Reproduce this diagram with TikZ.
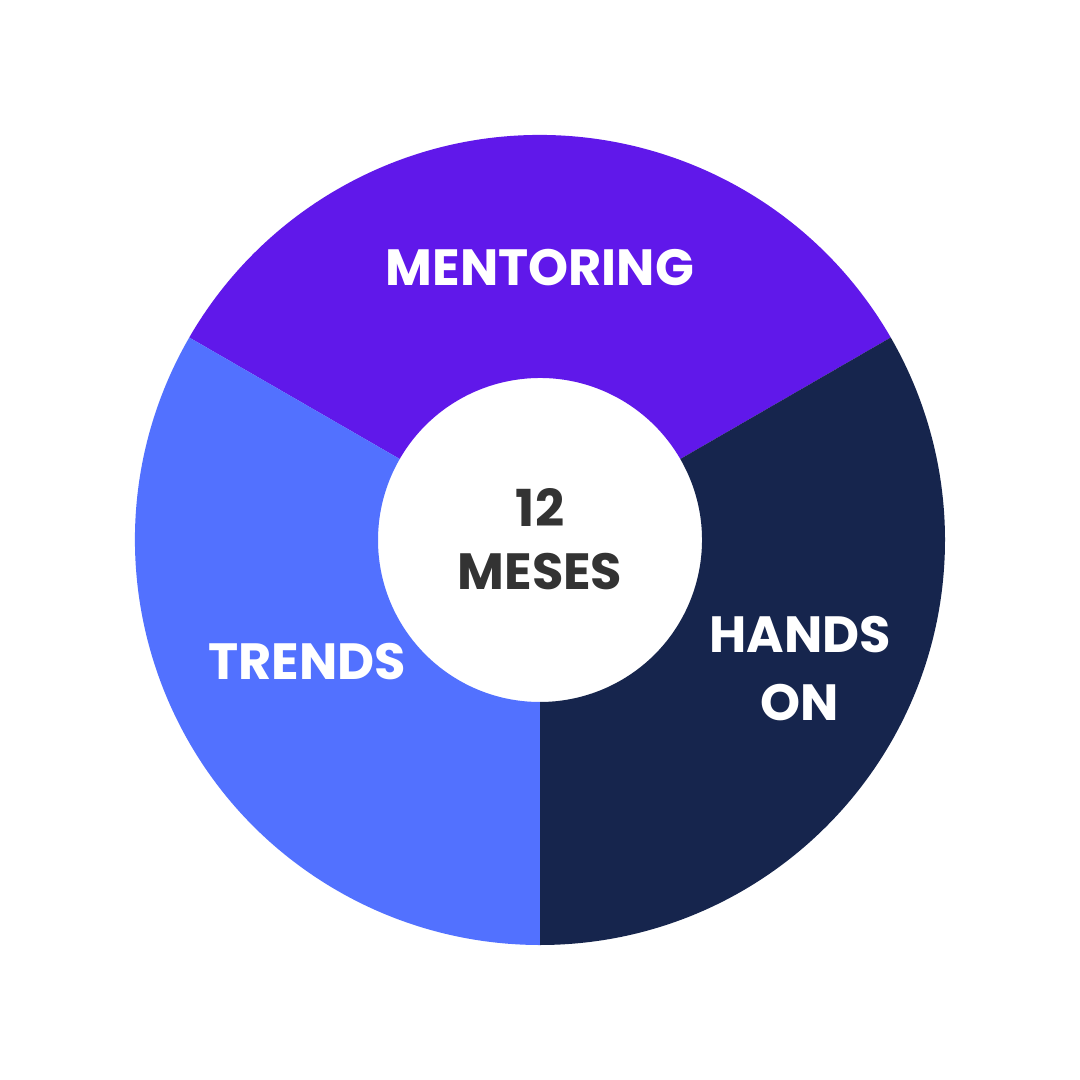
\documentclass[tikz,border=0pt]{standalone}
\usepackage{fontspec}
\setmainfont{Poppins}
\definecolor{mentor}{HTML}{6018EA}
\definecolor{hands}{HTML}{16254D}
\definecolor{trends}{HTML}{5271FF}
\definecolor{centertxt}{HTML}{333333}
\tikzset{
  seglabel/.style={text=white,font=\fontsize{14.5}{17}\selectfont\bfseries,inner sep=0pt,anchor=center},
  centerlabel/.style={text=centertxt,font=\fontsize{14.5}{17}\selectfont\bfseries,inner sep=0pt,anchor=center}
}
\begin{document}
\begin{tikzpicture}
\useasboundingbox[fill=white] (-5.4,-5.4) rectangle (5.4,5.4);
\def\Ro{4.05}
\def\Ri{1.62}
\fill[mentor] (30:\Ri) -- (30:\Ro) arc[start angle=30,end angle=150,radius=\Ro] -- (150:\Ri) arc[start angle=150,end angle=30,radius=\Ri] -- cycle;
\fill[trends] (150:\Ri) -- (150:\Ro) arc[start angle=150,end angle=270,radius=\Ro] -- (270:\Ri) arc[start angle=270,end angle=150,radius=\Ri] -- cycle;
\fill[hands] (-90:\Ri) -- (-90:\Ro) arc[start angle=-90,end angle=30,radius=\Ro] -- (30:\Ri) arc[start angle=30,end angle=-90,radius=\Ri] -- cycle;
\node[seglabel] (mentoring) at (0,2.72) {MENTORING};
\node[seglabel] (trends) at (-2.33,-1.22) {TRENDS};
\node[seglabel] (hands) at (2.6,-0.95) {HANDS};
\node[seglabel] (on) at (2.6,-1.63) {ON};
\node[centerlabel] (twelve) at (0,0.33) {12};
\node[centerlabel] (meses) at (0,-0.32) {MESES};
\end{tikzpicture}
\end{document}
